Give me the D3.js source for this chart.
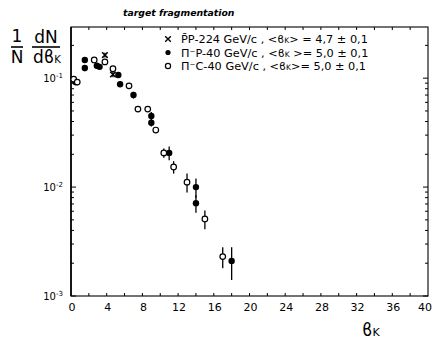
<!DOCTYPE html>
<html>
<head>
<meta charset="utf-8">
<script src="https://cdn.jsdelivr.net/npm/d3@7"></script>
<style>
  body { margin: 0; background: #fff; }
  svg { display: block; }
  text { font-family: "DejaVu Sans", sans-serif; fill: #000; }
</style>
</head>
<body>
<div id="chart"></div>
<script>
// pbar-p 224 GeV/c (crosses)
const ppX = [3.8, 4.7];
const ppY = [0.163, 0.108];
const ppErr = [0.008, 0.006];

// pi- p 40 GeV/c (filled circles)
const pipX = [0.5, 1.55, 1.55, 2.9, 3.2, 5.3, 5.5, 7.0, 9.0, 9.0, 11.0, 14.0, 14.0, 18.0];
const pipY = [0.092, 0.147, 0.124, 0.130, 0.127, 0.107, 0.088, 0.070, 0.045, 0.039, 0.0206, 0.0100, 0.0071, 0.0021];
const pipErr = [0.006, 0.009, 0.008, 0.007, 0.007, 0.006, 0.005, 0.005, 0.004, 0.003, 0.003, 0.002, 0.0013, 0.0007];

// pi- C 40 GeV/c (open circles)
const picX = [0.3, 0.7, 2.6, 3.8, 4.7, 6.5, 7.5, 8.6, 9.5, 10.4, 11.5, 13.0, 15.0, 17.0];
const picY = [0.098, 0.092, 0.147, 0.141, 0.122, 0.085, 0.052, 0.052, 0.0334, 0.0206, 0.0153, 0.0111, 0.0051, 0.0023];
const picErr = [0.006, 0.006, 0.007, 0.007, 0.006, 0.004, 0.003, 0.003, 0.002, 0.002, 0.002, 0.0022, 0.001, 0.0005];

const xTicks = [0, 4, 8, 12, 16, 20, 24, 28, 32, 36, 40];
const yTicks = [1e-1, 1e-2, 1e-3];
const yExp = ['-1', '-2', '-3'];

const legendItems = [
  {sym: 'cross', head: 'P\u0304P-224 GeV/c , <\u03D0', tail: '> = 4,7 \u00B1 0,1'},
  {sym: 'filled', head: '\u03A0\u207BP-40  GeV/c , <\u03D0', tail: ' >= 5,0 \u00B1 0,1'},
  {sym: 'open', head: '\u03A0\u207BC-40  GeV/c , <\u03D0', tail: '>= 5,0 \u00B1 0,1'}
];

const width = 433, height = 344;
const margin = {top: 27, right: 4, bottom: 48, left: 71};

const svg = d3.select('#chart').append('svg')
  .attr('width', width)
  .attr('height', height);

const x = d3.scaleLinear()
  .domain([0, 40])
  .range([margin.left, 428]);

const y = d3.scaleLog()
  .domain([0.001, 0.295])
  .range([height - margin.bottom, margin.top]);

const x0 = x(0), x1 = x(40), y0 = y(0.001), y1 = y(0.295);

// frame
svg.append('rect')
  .attr('x', x0).attr('y', y1)
  .attr('width', x1 - x0).attr('height', y0 - y1)
  .attr('fill', 'none').attr('stroke', '#000').attr('stroke-width', 1.1);
svg.append('line')
  .attr('x1', x0).attr('x2', x0).attr('y1', y1).attr('y2', y0)
  .attr('stroke', '#000').attr('stroke-width', 1.6);

// bottom + top ticks (every 2 units, pointing inward)
const minorX = d3.range(2, 40, 2);
svg.append('g').selectAll('line.bt')
  .data(minorX).enter().append('line')
    .attr('x1', d => x(d)).attr('x2', d => x(d))
    .attr('y1', y0).attr('y2', y0 - 3)
    .attr('stroke', '#000').attr('stroke-width', 1);
svg.append('g').selectAll('line.tt')
  .data(minorX).enter().append('line')
    .attr('x1', d => x(d)).attr('x2', d => x(d))
    .attr('y1', y1).attr('y2', y1 + 3)
    .attr('stroke', '#000').attr('stroke-width', 1);

// left + right log ticks
const logTicks = [];
[0.001, 0.01, 0.1].forEach(dec => {
  for (let k = 1; k < 10; k++) {
    const v = dec * k;
    if (v <= 0.295) logTicks.push({v: v, major: k === 1});
  }
});
svg.append('g').selectAll('line.lt')
  .data(logTicks).enter().append('line')
    .attr('x1', x0).attr('x2', d => x0 + (d.major ? 5 : 3))
    .attr('y1', d => y(d.v)).attr('y2', d => y(d.v))
    .attr('stroke', '#000').attr('stroke-width', 1);
svg.append('g').selectAll('line.rt')
  .data(logTicks).enter().append('line')
    .attr('x1', x1).attr('x2', d => x1 - (d.major ? 5 : 3))
    .attr('y1', d => y(d.v)).attr('y2', d => y(d.v))
    .attr('stroke', '#000').attr('stroke-width', 1);

// x tick labels (last one pulled in so it stays inside the page)
svg.append('g').selectAll('text')
  .data(xTicks).enter().append('text')
    .attr('x', d => d === 40 ? width - 1 : x(d) + 1)
    .attr('y', y0 + 15)
    .attr('text-anchor', d => d === 40 ? 'end' : 'middle')
    .attr('font-size', 11)
    .text(d => d);

// y tick labels
const yl = svg.append('g').selectAll('text')
  .data(yTicks).enter().append('text')
    .attr('x', x0 - 18)
    .attr('y', d => y(d) + 4)
    .attr('text-anchor', 'middle')
    .attr('font-size', 10);
yl.append('tspan').text('10');
yl.append('tspan')
  .attr('font-size', 7)
  .attr('dy', -4)
  .text((d, i) => yExp[i]);

// error bars
function errBars(xs, ys, es) {
  svg.append('g').selectAll('line')
    .data(xs).enter().append('line')
      .attr('x1', (d, i) => x(d)).attr('x2', (d, i) => x(d))
      .attr('y1', (d, i) => y(ys[i] + es[i]))
      .attr('y2', (d, i) => y(Math.max(ys[i] - es[i], 0.0011)))
      .attr('stroke', '#000').attr('stroke-width', 1.3);
}
errBars(ppX, ppY, ppErr);
errBars(pipX, pipY, pipErr);
errBars(picX, picY, picErr);

const cross = d3.symbol().type(d3.symbolX).size(22);

svg.append('g').selectAll('path')
  .data(ppX).enter().append('path')
    .attr('d', cross)
    .attr('transform', (d, i) => 'translate(' + x(d) + ',' + y(ppY[i]) + ')')
    .attr('fill', 'none').attr('stroke', '#000').attr('stroke-width', 1.5);

svg.append('g').selectAll('circle')
  .data(pipX).enter().append('circle')
    .attr('cx', d => x(d))
    .attr('cy', (d, i) => y(pipY[i]))
    .attr('r', 3.2)
    .attr('fill', '#000');

svg.append('g').selectAll('circle')
  .data(picX).enter().append('circle')
    .attr('cx', d => x(d))
    .attr('cy', (d, i) => y(picY[i]))
    .attr('r', 2.8)
    .attr('fill', '#fff').attr('stroke', '#000').attr('stroke-width', 1.2);

// legend
const lg = svg.append('g');
legendItems.forEach((it, i) => {
  const cy = 39 + i * 13.5;
  const mx = 168;
  if (it.sym === 'cross') {
    lg.append('path').attr('d', cross)
      .attr('transform', 'translate(' + mx + ',' + cy + ')')
      .attr('fill', 'none').attr('stroke', '#000').attr('stroke-width', 1.4);
  } else if (it.sym === 'filled') {
    lg.append('circle').attr('cx', mx).attr('cy', cy).attr('r', 2.6).attr('fill', '#000');
  } else {
    lg.append('circle').attr('cx', mx).attr('cy', cy).attr('r', 2.6)
      .attr('fill', '#fff').attr('stroke', '#000').attr('stroke-width', 1.2);
  }
  const t = lg.append('text')
    .attr('x', 181).attr('y', cy + 4)
    .attr('font-size', 11.3)
    .attr('font-family', 'Liberation Sans, sans-serif');
  t.append('tspan').text(it.head);
  t.append('tspan').attr('font-size', 7.5).text('K');
  t.append('tspan').text(it.tail);
});

// title
svg.append('text')
  .attr('x', 123).attr('y', 16)
  .attr('font-size', 9.3)
  .attr('font-style', 'italic')
  .attr('font-weight', 'bold')
  .text('target fragmentation');

// y axis label: 1/N dN/db_K
const ylab = svg.append('g').attr('font-size', 17);
ylab.append('text').attr('x', 17).attr('y', 42).attr('text-anchor', 'middle').text('1');
ylab.append('line').attr('x1', 11).attr('x2', 23).attr('y1', 47).attr('y2', 47)
  .attr('stroke', '#000').attr('stroke-width', 1.6);
ylab.append('text').attr('x', 17).attr('y', 63).attr('text-anchor', 'middle').text('N');
ylab.append('text').attr('x', 46).attr('y', 43).attr('text-anchor', 'middle').text('dN');
ylab.append('line').attr('x1', 32).attr('x2', 60).attr('y1', 47).attr('y2', 47)
  .attr('stroke', '#000').attr('stroke-width', 1.6);
const db = ylab.append('text').attr('x', 33).attr('y', 63);
db.append('tspan').text('d\u03D0');
db.append('tspan').attr('font-size', 10).text('K');

// x axis label
const xlab = svg.append('text').attr('x', 362).attr('y', 336).attr('font-size', 17);
xlab.append('tspan').text('\u03D0');
xlab.append('tspan').attr('font-size', 11).text('K');
</script>
</body>
</html>
